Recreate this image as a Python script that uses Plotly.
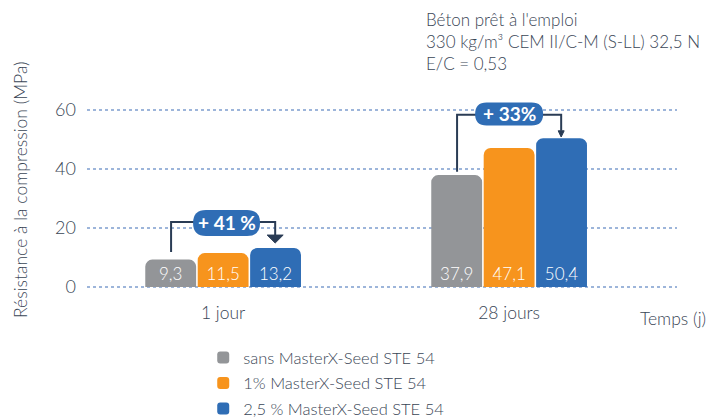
import plotly.graph_objects as go

categories = ["1 jour", "28 jours"]
x_pos = [0, 1]
series_names = ["sans MasterX-Seed STE 54", "1% MasterX-Seed STE 54", "2,5 % MasterX-Seed STE 54"]
values_sans = [9.3, 37.9]
values_1 = [11.5, 47.1]
values_25 = [13.2, 50.4]
colors = ["#939598", "#F7941D", "#2F6DB5"]
gains = ["+ 41 %", "+ 33%"]

FONT = "Lato"
TXT = "#3A4656"
NAVY = "#2A3C55"

def fmt(v):
    return f"{v:.1f}".replace(".", ",")

fig = go.Figure()
for name, vals, col in zip(series_names, [values_sans, values_1, values_25], colors):
    fig.add_trace(go.Bar(
        x=x_pos, y=vals, name=name, legendgroup=name,
        marker=dict(color=col, cornerradius=7, line=dict(width=0)),
        text=[fmt(v) for v in vals], textposition="inside", insidetextanchor="start",
        textfont=dict(color="white", size=17, family=FONT, weight=300),
        constraintext="none", cliponaxis=False,
    ))

# brackets
brackets = [
    # (center, y_start, y_top, y_right_end, y_tip, half_width_px)
    (0, 11.9, 22.0, 17.6, 14.9, 8),
    (1, 39.0, 58.3, 52.9, 50.8, 3),
]
off = 0.182
pxx = 286.0
for c, ys, yt, yr, ytip, hw in brackets:
    fig.add_shape(type="path",
                  path=f"M {c-off},{ys} L {c-off},{yt} L {c+off},{yt} L {c+off},{yr}",
                  line=dict(color=NAVY, width=2), layer="above")
    d = hw / pxx
    fig.add_shape(type="path",
                  path=f"M {c+off-d},{yr} L {c+off+d},{yr} L {c+off},{ytip} Z",
                  fillcolor=NAVY, line=dict(color=NAVY, width=1), layer="above")

def pill(w, h):
    r = h / 2
    a = w / 2 - r
    return (f"M {-a},{-r} L {a},{-r} Q {a+r},{-r} {a+r},0 Q {a+r},{r} {a},{r} "
            f"L {-a},{r} Q {-a-r},{r} {-a-r},0 Q {-a-r},{-r} {-a},{-r} Z")

pills = [(0.012, 21.7, 67, 26), (1.0, 58.6, 68, 23)]
for (px_, py_, w, h), g in zip(pills, gains):
    fig.add_shape(type="path", xsizemode="pixel", ysizemode="pixel",
                  xanchor=px_, yanchor=py_, path=pill(w, h),
                  fillcolor="#2F6DB5", line=dict(width=0), layer="above")
    fig.add_annotation(x=px_, y=py_, text=f"<b>{g}</b>", showarrow=False,
                       font=dict(color="white", size=19, family=FONT))

fig.add_annotation(xref="paper", yref="paper", x=0.571, y=1.472, xanchor="left", yanchor="top",
                   align="left", showarrow=False,
                   text="Béton prêt à l'emploi<br>330 kg/m³ CEM II/C-M (S-LL) 32,5 N<br>E/C = 0,53",
                   font=dict(size=17, color=TXT, family=FONT, weight=300))
fig.add_annotation(xref="paper", yref="paper", x=0.993, y=-0.146, xanchor="center", yanchor="middle",
                   showarrow=False, text="Temps (j)",
                   font=dict(size=17.5, color=TXT, family=FONT, weight=300))
fig.add_annotation(xref="paper", yref="paper", x=-0.1136, y=0.526, xanchor="center", yanchor="middle",
                   showarrow=False, textangle=-90, text="Résistance à la compression (MPa)",
                   font=dict(size=17.5, color=TXT, family=FONT, weight=300))

fig.update_layout(
    width=728, height=419,
    margin=dict(l=87, r=51, t=98, b=129, autoexpand=False),
    paper_bgcolor="white", plot_bgcolor="white",
    barmode="group", bargap=0.45, bargroupgap=0.03,
    font=dict(family=FONT, color=TXT),
    showlegend=True,
    legend=dict(x=0.197, y=-0.262, xanchor="left", yanchor="top",
                font=dict(size=16.5, color=TXT, family=FONT, weight=300),
                tracegroupgap=1, bgcolor="rgba(0,0,0,0)"),
    xaxis=dict(range=[-0.476, 1.587], tickvals=x_pos, ticktext=categories,
               showgrid=False, zeroline=False, showline=False, ticks="",
               ticklabelstandoff=10,
               tickfont=dict(size=17.5, color=TXT, family=FONT, weight=300)),
    yaxis=dict(range=[-1, 64], tickvals=[0, 20, 40, 60], showgrid=True,
               gridcolor="#9DB5DA", griddash="dot", gridwidth=2,
               zeroline=False, showline=False, ticks="", ticklabelstandoff=10,
               tickfont=dict(size=18, color=TXT, family=FONT, weight=300)),
)

fig.write_html("out.html")
